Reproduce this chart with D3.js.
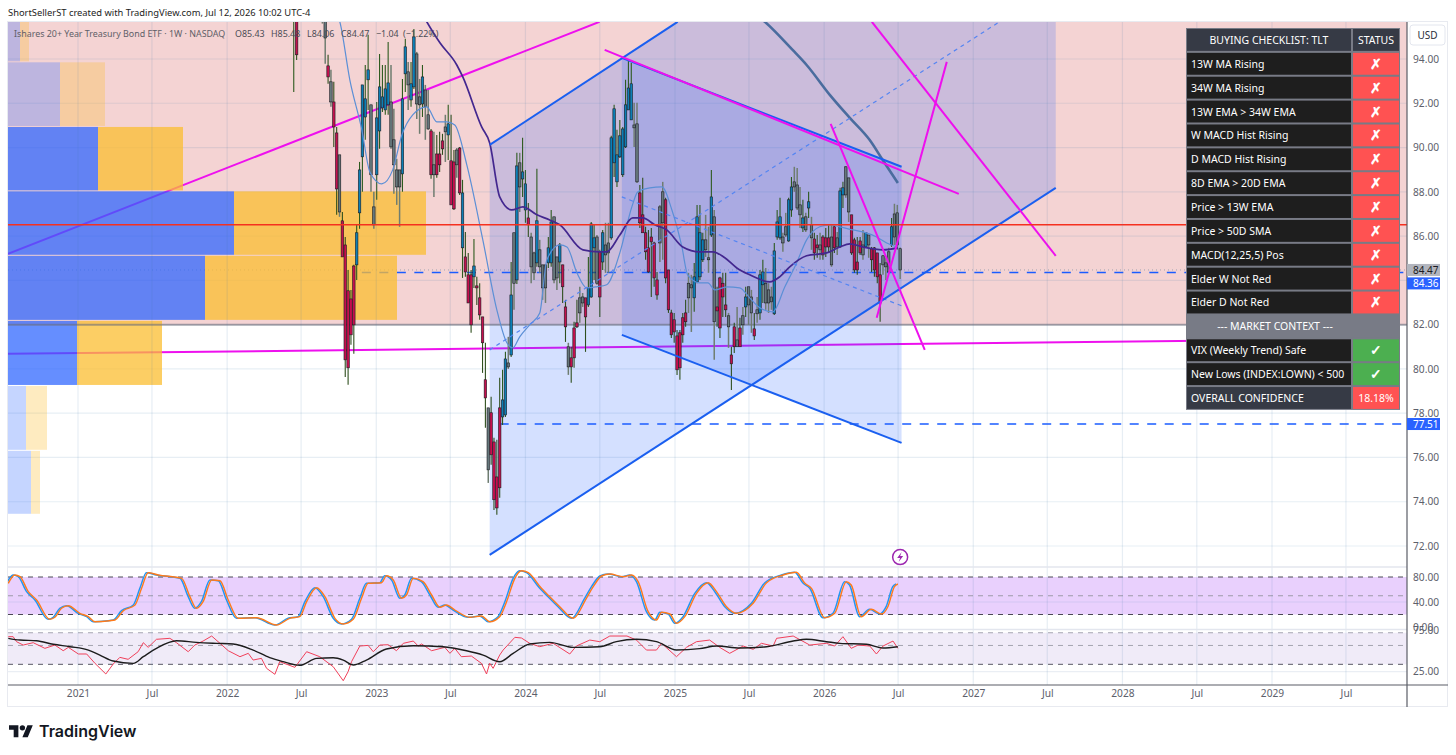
<!DOCTYPE html>
<html>
<head>
<meta charset="utf-8">
<script src="https://cdn.jsdelivr.net/npm/d3@7"></script>
<style>
  html, body { margin: 0; padding: 0; background: #fff; }
  svg { display: block; }
  text { font-family: "Noto Sans", sans-serif; }
</style>
</head>
<body>
<div id="chart"></div>
<script>
// Weekly bars, index 0 = mid June 2022, index 212 = last bar (Jul 6 2026)
const highs = [
  99,98,99.5,100.2,101,101.8,102.4,101.9,101.2,99.6,
  98.4,97.6,94.19,93.51,92.97,90.93,89.67,87.09,85.96,84.47,
  83.57,84.70,86.51,89.35,92.83,93.73,95.09,91.93,88.0,92.06,
  94.23,93.73,93.73,94.77,93.73,91.75,89.49,88.99,93.10,94.91,
  93.87,93.87,95.36,94.32,93.10,93.73,92.83,92.60,90.84,90.71,
  90.57,90.71,90.62,91.48,91.93,91.48,89.89,89.98,90.03,88.54,
  86.19,85.24,84.47,85.87,84.16,83.87,82.35,81.18,78.24,78.74,
  76.89,76.80,79.60,79.96,80.77,81.45,84.83,86.15,89.76,89.76,
  90.44,88.99,87.50,86.15,85.29,89.04,85.83,84.70,84.70,85.96,
  87.18,86.87,85.06,85.69,84.70,83.12,81.18,81.0,82.13,83.12,
  83.71,83.43,83.21,85.06,86.64,86.51,86.05,85.38,86.28,86.60,
  86.60,90.53,91.93,90.80,91.25,90.93,93.06,93.96,93.82,92.02,
  92.02,88.31,88.63,86.42,86.28,86.37,85.74,84.38,87.41,88.45,
  87.73,84.47,82.67,82.53,81.76,81.76,82.53,83.12,84.34,84.25,
  84.79,87.41,87.41,86.15,86.96,86.42,88.99,87.18,83.71,84.16,
  84.34,84.34,82.53,81.0,82.08,82.80,82.31,82.80,83.71,83.71,
  83.57,82.53,83.25,84.47,84.93,84.56,83.87,83.71,85.69,87.18,
  87.73,86.15,87.05,87.73,88.67,89.13,89.08,88.22,87.64,87.05,
  88.0,86.87,86.15,86.05,86.15,86.05,86.37,86.51,86.51,86.51,
  86.19,88.18,88.45,89.17,88.63,86.96,85.92,85.96,85.96,86.28,
  86.15,86.05,85.51,85.51,85.24,84.79,85.15,85.02,85.47,86.82,
  87.46,87.41,85.48
];
const bodyHigh = [
  98,97,98.6,99.6,100.2,101,101.2,101,100.4,99,
  97.6,96.5,93.69,92.97,92.06,90.66,89.67,86.69,85.60,83.53,
  83.16,84.65,86.15,88.99,92.83,92.20,93.51,91.93,87.32,91.34,
  92.74,92.29,92.65,92.92,92.06,90.35,88.99,88.99,92.20,94.55,
  93.42,92.88,95.0,94.23,92.29,93.19,92.60,91.48,90.75,89.22,
  89.71,89.71,90.30,90.93,91.07,89.40,89.35,89.89,89.98,87.95,
  85.06,84.25,84.25,84.65,83.75,83.21,82.35,79.51,78.24,78.02,
  76.70,75.12,78.24,78.60,80.45,80.27,83.34,86.15,89.17,89.31,
  88.90,88.36,86.82,85.96,85.24,86.69,85.38,84.70,84.70,85.47,
  86.64,86.87,85.06,85.60,84.70,82.80,81.0,80.50,81.85,82.08,
  83.21,83.25,83.21,83.66,86.55,85.92,85.96,85.29,86.15,85.60,
  85.69,90.44,91.75,89.67,90.53,90.84,91.93,92.69,92.88,91.02,
  91.07,87.95,86.96,86.15,85.47,85.96,85.69,84.02,87.32,88.0,
  87.64,84.47,82.53,82.22,81.49,81.63,82.31,82.53,83.87,83.80,
  84.16,86.87,86.15,85.83,85.83,85.02,87.77,86.87,82.80,84.11,
  83.87,82.89,82.40,80.63,81.90,81.31,81.85,82.40,83.25,83.71,
  83.25,81.81,82.67,84.25,84.38,83.87,83.57,83.25,85.33,86.64,
  86.87,85.96,86.42,87.64,88.22,88.45,88.31,87.41,86.82,86.87,
  87.55,86.51,85.87,85.60,85.60,85.96,85.92,85.92,85.96,86.42,
  85.92,88.04,88.18,89.13,88.63,86.96,85.83,84.83,85.78,85.60,
  86.15,86.05,85.42,85.47,85.24,84.25,85.11,84.79,85.29,86.42,
  87.0,87.05,85.43
];
const bodyLow = [
  97,94.19,97.4,98.2,99.4,99.8,100.4,99.9,99,97.9,
  96.4,94.95,93.19,92.06,90.93,88.13,87.09,85.06,80.41,80.05,
  81.54,81.99,84.70,87.05,89.58,91.38,93.06,88.77,86.51,88.77,
  90.75,91.79,91.70,91.93,90.03,89.22,88.22,88.22,88.81,93.33,
  92.83,92.15,92.74,91.97,91.93,91.97,91.84,90.84,88.77,88.77,
  88.77,89.22,89.94,90.71,90.57,87.41,87.23,89.22,87.95,85.47,
  84.38,82.98,81.99,84.16,83.66,82.44,81.18,78.69,75.44,76.12,
  74.09,73.72,74.63,77.83,77.92,80.09,80.63,83.87,84.02,88.22,
  88.58,87.18,86.51,84.61,84.34,84.79,84.61,83.66,83.66,84.79,
  84.79,84.02,84.11,84.83,83.71,81.90,80.09,80.09,80.50,81.90,
  82.53,82.98,82.35,82.89,83.25,85.47,83.87,83.25,84.83,85.15,
  85.24,85.92,89.31,88.45,89.58,88.77,90.03,91.70,91.25,90.89,
  88.45,86.60,86.15,85.29,84.38,85.74,84.11,83.34,85.69,86.60,
  84.11,82.67,81.54,81.67,79.96,80.05,81.54,82.13,83.21,83.66,
  83.21,83.93,84.16,84.93,85.38,84.93,86.05,82.13,82.62,81.85,
  83.25,82.67,81.90,80.23,81.0,81.0,81.0,81.99,82.80,82.89,
  82.53,81.49,82.49,82.53,83.80,82.98,82.98,83.03,82.49,85.96,
  85.92,85.69,86.05,85.78,87.18,88.22,87.27,86.96,86.37,86.28,
  87.27,85.92,85.24,85.47,85.38,85.15,85.51,85.51,84.70,85.47,
  85.51,85.51,87.86,87.86,87.09,85.24,84.47,84.47,85.24,85.15,
  85.51,85.60,84.93,84.47,84.16,82.98,84.70,84.61,84.38,85.60,
  85.96,85.60,84.47
];
const lows = [
  92.51,93.96,96.6,97.8,98.9,99.2,99.6,99.4,98.4,97,
  95.6,93.78,92.88,91.84,90.03,86.96,86.87,85.06,79.64,79.28,
  81.09,80.68,84.02,86.33,88.0,90.35,91.70,88.0,86.33,87.64,
  89.94,91.61,91.48,91.48,89.94,87.91,87.41,86.42,88.0,92.51,
  91.70,91.84,92.65,91.29,90.62,91.38,90.35,90.80,88.59,87.77,
  88.63,88.90,89.67,89.35,89.44,87.41,87.18,88.63,87.86,84.11,
  84.16,82.98,81.63,83.66,82.89,82.22,79.82,77.34,74.85,75.67,
  73.63,73.41,74.18,77.47,77.83,80.0,80.54,82.67,83.84,87.09,
  87.77,86.60,85.96,83.87,84.02,84.61,84.34,83.12,82.98,84.56,
  84.61,83.87,83.57,83.87,82.98,81.22,79.73,79.37,80.05,81.85,
  82.08,82.80,80.77,82.80,83.21,84.02,83.80,82.35,84.47,84.34,
  84.34,85.83,88.67,88.22,89.53,88.67,89.98,91.70,91.25,90.03,
  88.40,86.37,86.15,84.93,84.34,83.25,83.71,83.12,84.83,84.93,
  83.87,82.53,81.40,81.18,79.73,79.51,81.18,81.90,82.53,81.67,
  82.58,83.87,84.02,84.83,85.06,84.34,85.96,80.41,81.90,81.40,
  82.35,82.35,80.95,79.05,80.72,81.0,81.0,81.54,82.35,81.99,
  81.63,81.31,82.08,82.22,82.98,82.67,82.53,82.67,82.44,85.83,
  85.83,85.29,85.96,85.74,86.87,88.0,87.18,86.37,86.19,86.19,
  86.82,85.38,84.93,85.02,84.93,84.93,85.06,85.24,84.61,85.24,
  85.15,85.47,87.27,87.73,86.64,85.15,84.34,84.25,85.15,84.93,
  85.47,85.02,84.38,84.16,83.87,82.13,84.25,84.02,84.34,85.51,
  85.60,85.38,84.06
];
// b = blue, r = red, g = grey (impulse colouring)
const tones = (
  "brgggggggggg" + "rgrrgrrrrr" + "bbbbbggbbb" + "bbggggbbgb" + "bggbggrgrr" +
  "rgbrrgrbrr" + "rbrrrrgrrr" + "rbbgbgbgbb" + "rggbgggbbg" + "gbrrgrrrgg" +
  "rbbbgrbggb" + "bbbbbbbggr" + "rrrrrrggrr" + "rrrrrrggbb" + "bbggbgrrrr" +
  "grrgrgbggr" + "gbbgggbbbg" + "gbbgggbgbg" + "rrgrrrgrgb" + "bggrrrrgbg" +
  "rrrrgggbgg" + "g"
).split("");

// Moving averages, read at irregular bar positions
const slowMaWeeks = [44.1,46.5,51.1,57,59.1,65.7,68.5,72,76.2,80.1,85,89.5,93,101.1,107,109.4,114,118.5,122,126.2,130.4,136,141.9,146.5,150.7,154.9,159.4,166.4,169.9,173.4,179.3,186.3,190.9,194.4,198.9,205.9,211.2];
const slowMaValues = [96.22,95.68,94.73,93.73,93.19,90.93,90.21,87.77,87.18,87.32,86.96,86.73,86.51,85.38,85.29,85.29,86.05,86.82,86.82,86.51,86.28,85.51,85.29,85.29,85.02,84.56,84.25,83.93,84.16,84.61,85.11,85.24,85.51,85.65,85.51,85.38,85.47];
const longMaWeeks = [159.4,164.7,174.4,179.3,187.4,194.4,201.3,205.9,211.2];
const longMaValues = [96.22,95.68,94.41,93.73,92.38,91.34,90.35,89.44,88.40];
const fastMaWeeks = [14.4,16.1,19.6,23.8,26.6,30.8,34.6,37.8,41.6,46.5,50,53.5,56.3,60.5,66.1,71,74.5,76.6,79,82.5,86,88.5,93,95.5,99,102.4,105.9,109.4,114,118.2,120.3,124.5,128.7,132.2,135.7,137.7,141.9,144.8,147.2,151.4,155.9,159.4,162.9,167.5,171.7,175.8,179.3,183.9,187.4,190.9,195.4,198.9,203.8,207.3,210.8];
const fastMaValues = [96.22,95.68,93.06,90.80,88.90,88.36,88.99,90.57,91.48,91.84,91.16,91.16,91.02,89.22,85.83,82.67,81.18,80.95,81.45,81.99,82.53,84.93,85.60,85.51,84.34,83.66,83.71,83.80,85.24,87.32,88.0,88.18,88.22,87.18,85.51,84.25,83.89,83.89,83.57,83.71,83.66,83.21,82.76,82.58,83.71,84.79,85.83,86.42,86.51,86.42,86.28,86.19,85.96,85.69,85.51];

// Drawn lines as week / price anchors: [week1, price1, week2, price2]
const magentaBack = [[-99.9,85.2,106.9,95.68],[-99.9,80.68,351.8,81.32]];
const magentaFront = [[108.7,94.41,232.5,87.91],[187.7,91.07,220.6,80.86],[203.8,82.31,228.3,93.87],[202.1,95.68,266.4,85.11]];
const channelLines = [[68.5,90.12,134.2,95.68],[68.5,71.6,266.4,88.18],[114.7,94.05,212.5,89.13],[114.7,81.54,212.5,76.66]];
const channelMidlines = [[68.5,80.86,246.7,95.68],[114.7,87.77,212.5,82.85]];
const channelFills = [
  [[68.5,71.6],[68.5,90.12],[266.4,106.87],[266.4,88.18]],
  [[114.7,81.54],[114.7,94.05],[212.5,89.13],[212.5,76.66]]
];
const resistanceLevel = 86.51;
const zoneFloor = 81.99;
const lastClose = 84.47;
const stopLevel = 84.36;
const entryLevel = 77.51;

// Volume profile rows, price edges top to bottom
const profileEdges = [95.68,93.85,90.93,88.02,85.11,82.17,79.23,76.30,73.41];
const profileBuy = [12,52,90,226,197,69,18,23];
const profileSell = [9,45,85,192,192,85,21,9];

// Stochastic pane
const stochWeeks = [-99.8,-97.5,-95.7,-92.8,-89.9,-85.3,-83.5,-81.2,-78.8,-74.8,-71.8,-69.5,-64.3,-62.5,-59.6,-55.5,-53.2,-50.9,-47.4,-39.2,-36.3,-34,-31.7,-28.7,-25.8,-22.9,-19.4,-13,-6,-1.4,2.1,4.5,8,10.9,14.4,17.3,20.8,23.7,26,30.7,32.4,34.8,37.7,39.4,41.8,45.2,48.2,51.1,53.4,56.3,61.6,65.6,68.5,72,74.4,77.3,79.6,82,86.6,89.5,93,97.7,102.3,104.7,107.6,110.5,115.2,118.1,120.4,123.9,126.8,128.6,131.5,133.8,136.7,140.8,144.9,147.8,151.3,154.8,160.6,165.3,171.1,175.7,178.7,181,185.6,189.1,193.2,194.9,198.4,201.9,205.4,207.7,210,211.2];
const stochValues = [69.9,83.2,80.5,56.5,43.2,12.3,15.5,29.9,34.1,21.9,16.5,8.5,10.1,11.2,26.1,35.2,61.9,86.9,83.2,77.9,48.5,29.9,40.5,75.2,74.1,43.2,13.9,14.9,3.2,13.9,16.5,40.5,62.9,48.5,13.9,4.8,12.3,45.9,69.9,70.9,82.1,75.2,45.9,51.2,77.9,72.5,51.2,31.5,35.2,27.2,15.5,17.6,8.5,16.5,40.5,77.9,90.1,86.9,61.9,48.5,32.5,13.9,45.9,64.5,81.6,84.8,80.5,83.2,72.5,24.5,11.2,23.5,20.8,5.9,16.5,53.9,70.9,56.5,32.5,21.9,37.9,70.9,83.2,87.5,69.9,61.9,14.9,21.9,72.5,67.2,16.5,28.3,20.8,32.5,64.5,68.8];
const stochLevels = [80,50,20];

// RSI pane
const rsiWeeks = [-99.8,-98.1,-96.9,-94.6,-91.1,-87,-83.5,-80.6,-78.8,-75.3,-72.4,-69.5,-65.7,-63.1,-60.8,-57.9,-54.4,-52.6,-50.9,-48,-43.3,-41,-36.9,-34.6,-31.7,-28.7,-25.8,-22.9,-18.8,-15.9,-14.2,-11.3,-9.5,-6.6,-4.9,0.4,4.5,9.1,13.8,17.3,19,20.2,23.1,26,27.8,30.1,33,35.9,38.3,41.8,43.5,44.7,48.2,52.8,54.6,56.3,58.6,62.1,65.6,67.4,68.5,69.7,72,73.2,77.3,79.6,82.5,86,90.7,96.5,98.8,103.5,107,110.5,116.5,119.8,123.3,126.8,128.6,133.8,137.3,140.8,145.4,148.9,152.4,157.1,160.6,163.5,167.6,168.8,174.6,180.4,186.2,189.1,192,194.9,197.3,201.4,203.7,206,209.5,211.2];
const rsiValues = [67.7,67.7,61.6,57.5,60.4,53.5,57.5,50.6,54.7,46.6,46.6,35.2,22.2,34.4,42.5,40.1,49.4,60.4,54.7,64.5,65.7,60.4,49.4,57.5,62.4,68.5,59.6,50.6,43.3,47.4,39.2,41.3,29.1,21.8,37.2,30.3,49.4,43.3,31.1,14.0,25.0,37.2,56.3,57.1,49.4,57.5,57.9,50.6,59.6,62.4,56.3,58.8,50.6,54.7,47.4,53.5,43.3,44.1,35.2,22.2,35.2,29.1,45.3,51.4,66.9,66.1,59.6,55.5,59.6,46.6,56.3,63.6,61.6,68.5,68.5,63.6,51.4,51.4,59.6,43.3,54.7,61.6,63.6,54.7,47.4,56.3,52.3,59.6,56.3,65.7,68.5,57.5,59.6,56.3,67.7,53.5,57.5,56.3,46.6,56.3,62.4,53.5];
const rsiMaWeeks = [-99.8,-95.7,-89.9,-84.1,-78.3,-71.8,-67.8,-63.1,-56.1,-52.6,-48,-41,-34,-27,-21.2,-14.2,-8.4,-3.7,2.1,8,13.8,17.3,20.8,25.4,32.4,41.8,52.2,60.4,66.2,72,76.7,82.5,89.5,97.7,107,112.8,119.8,126.8,133.8,141.9,147.8,155.9,165.3,174.6,179.2,186.2,190.9,200.2,206,211.2];
const rsiMaValues = [65.7,63.6,62.8,58.4,55.5,51.4,45.3,38.0,35.2,43.3,53.5,62.8,60.8,59.6,58.8,51.4,42.1,37.2,32.7,41.3,42.1,39.2,33.2,39.2,52.7,56.7,55.5,50.6,45.3,37.2,47.4,58.8,60.8,54.7,55.5,61.6,64.5,61.6,51.4,53.1,56.3,53.9,55.5,62.4,64.5,61.6,59.6,58.4,53.9,55.5];
const rsiLevels = [72.5,57,34];

// Axis ticks
const priceTicks = [94,92,90,88,86,84,82,80,78,76,74,72];
const priceLabels = [94,92,90,88,86,82,80,78,76,74,72];
const stochTicks = [80,40,0];
const rsiTicks = [75,25];
const timeTicks = ["2021-01-01","2021-07-01","2022-01-01","2022-07-01","2023-01-01","2023-07-01","2024-01-01","2024-07-01","2025-01-01","2025-07-01","2026-01-01","2026-07-01","2027-01-01","2027-07-01","2028-01-01","2028-07-01","2029-01-01","2029-07-01"];

// Legend pieces
const legendName = "Ishares 20+ Year Treasury Bond ETF · 1W · NASDAQ";
const legendValues = ["O85.43","H85.48","L84.06","C84.47","−1.04","(−1.22%)"];
const legendValueX = [235,271,307,341,376,403];

// Checklist table
const checklistHeader = ["BUYING CHECKLIST: TLT","STATUS"];
const checklistLabels = ["13W MA Rising","34W MA Rising","13W EMA > 34W EMA","W MACD Hist Rising","D MACD Hist Rising","8D EMA > 20D EMA","Price > 13W EMA","Price > 50D SMA","MACD(12,25,5) Pos","Elder W Not Red","Elder D Not Red"];
const contextTitle = "--- MARKET CONTEXT ---";
const contextLabels = ["VIX (Weekly Trend) Safe","New Lows (INDEX:LOWN) < 500"];
const overallLabel = "OVERALL CONFIDENCE";
const overallValue = "18.18%";

const width = 1456, height = 755;
const plotLeft = 8, plotRight = 1407;

const svg = d3.select("#chart").append("svg")
    .attr("width", width)
    .attr("height", height);

// Scales
const parseDay = d3.timeParse("%Y-%m-%d");
const x = d3.scaleTime()
    .domain([parseDay("2021-01-01"), parseDay("2029-01-01")])
    .range([78, 1272]);
const y = d3.scaleLinear().domain([94, 72]).range([59, 546]);
const yStoch = d3.scaleLinear().domain([80, 0]).range([577, 627]);
const yRsi = d3.scaleLinear().domain([75, 25]).range([630.7, 671.7]);
const volumeX = d3.scaleLinear().domain([0, 418]).range([plotLeft, 426]);

const lastBar = parseDay("2026-07-06");
const weekX = w => x(new Date(+lastBar + (w - 212) * 7 * 864e5));

const defs = svg.append("defs");
defs.append("clipPath").attr("id", "mainClip").append("rect")
    .attr("x", plotLeft).attr("y", 22).attr("width", plotRight - plotLeft).attr("height", 545);
defs.append("clipPath").attr("id", "lowerClip").append("rect")
    .attr("x", plotLeft).attr("y", 567).attr("width", plotRight - plotLeft).attr("height", 118);

const main = svg.append("g").attr("clip-path", "url(#mainClip)");
const lower = svg.append("g").attr("clip-path", "url(#lowerClip)");

// Red zone behind price
main.append("rect")
    .attr("x", plotLeft).attr("y", 22)
    .attr("width", plotRight - plotLeft)
    .attr("height", y(zoneFloor) - 22)
    .attr("fill", "#f4d3d3");

// Grid
const gridColor = "rgba(70,120,170,0.13)";
main.selectAll(".hgrid").data(priceTicks).enter().append("line")
    .attr("x1", plotLeft).attr("x2", plotRight)
    .attr("y1", d => y(d)).attr("y2", d => y(d))
    .attr("stroke", gridColor).attr("stroke-width", 1.2);
svg.selectAll(".vgrid").data(timeTicks).enter().append("line")
    .attr("x1", d => x(parseDay(d))).attr("x2", d => x(parseDay(d)))
    .attr("y1", 22).attr("y2", 685)
    .attr("stroke", gridColor).attr("stroke-width", 1.2);

function drawSegments(parent, rows, color, strokeWidth, dash) {
    parent.selectAll(null).data(rows).enter().append("line")
        .attr("x1", d => weekX(d[0])).attr("y1", d => y(d[1]))
        .attr("x2", d => weekX(d[2])).attr("y2", d => y(d[3]))
        .attr("stroke", color)
        .attr("stroke-width", strokeWidth)
        .attr("stroke-dasharray", dash || null);
}

// Lines that sit under the volume profile
drawSegments(main, magentaBack, "#ee10ee", 2);
main.append("line")
    .attr("x1", plotLeft).attr("x2", plotRight)
    .attr("y1", y(lastClose)).attr("y2", y(lastClose))
    .attr("stroke", "#a0a4b0").attr("stroke-dasharray", "1,3");
drawSegments(main, [[23.8, stopLevel, 400, stopLevel]], "#1a5cff", 1.5, "9,8.5");
drawSegments(main, [[72, entryLevel, 400, entryLevel]], "#1a5cff", 1.5, "9,8.5");

// Volume profile
const profileRows = profileBuy.map((buy, i) => ({
    buy, sell: profileSell[i], top: profileEdges[i], bottom: profileEdges[i + 1]
}));
const rowOpacity = d => (d.buy + d.sell < 120 ? 0.27 : 0.72);
main.selectAll(".vpBuy").data(profileRows).enter().append("rect")
    .attr("x", plotLeft)
    .attr("y", d => y(d.top))
    .attr("width", d => volumeX(d.buy) - plotLeft)
    .attr("height", d => y(d.bottom) - y(d.top) - 1)
    .attr("fill", "#2962ff")
    .attr("fill-opacity", rowOpacity);
main.selectAll(".vpSell").data(profileRows).enter().append("rect")
    .attr("x", d => volumeX(d.buy))
    .attr("y", d => y(d.top))
    .attr("width", d => volumeX(d.sell) - plotLeft)
    .attr("height", d => y(d.bottom) - y(d.top) - 1)
    .attr("fill", "#fbbd30")
    .attr("fill-opacity", d => rowOpacity(d) + 0.03);

// Channel fills
main.selectAll(".channelFill").data(channelFills).enter().append("polygon")
    .attr("points", d => d.map(p => [weekX(p[0]), y(p[1])].join(",")).join(" "))
    .attr("fill", "rgba(41,98,255,0.2)");

// Zone floor
main.append("line")
    .attr("x1", plotLeft).attr("x2", plotRight)
    .attr("y1", y(zoneFloor)).attr("y2", y(zoneFloor))
    .attr("stroke", "rgba(110,112,125,0.6)").attr("stroke-width", 2);

// Candles
const candleColor = { b: "#0c7fb6", r: "#c4104e", g: "#66787c" };
const wickColor = { b: "#2d5a1e", r: "#2f4f1e", g: "#6f7d70" };
const candles = highs.map((h, i) => ({
    week: i, high: h, top: bodyHigh[i], bottom: bodyLow[i], low: lows[i], tone: tones[i]
}));
const candleG = main.selectAll(".candle").data(candles).enter().append("g");
candleG.append("line")
    .attr("x1", d => weekX(d.week)).attr("x2", d => weekX(d.week))
    .attr("y1", d => y(d.high)).attr("y2", d => y(d.low))
    .attr("stroke", d => wickColor[d.tone])
    .attr("stroke-width", d => d.tone === "g" ? 1.5 : 1.1);
candleG.append("rect")
    .attr("x", d => weekX(d.week) - 1.25)
    .attr("width", 2.5)
    .attr("y", d => y(d.top))
    .attr("height", d => Math.max(1, y(d.bottom) - y(d.top)))
    .attr("fill", d => candleColor[d.tone])
    .attr("stroke", "#1c1c22")
    .attr("stroke-width", 0.6);

// Moving averages
const maLine = d3.line().curve(d3.curveMonotoneX);
function drawMa(weeks, values, color, strokeWidth) {
    main.append("path")
        .attr("d", maLine(weeks.map((w, i) => [weekX(w), y(values[i])])))
        .attr("fill", "none")
        .attr("stroke", color)
        .attr("stroke-width", strokeWidth);
}
drawMa(fastMaWeeks, fastMaValues, "#5b8fd6", 1.2);
drawMa(slowMaWeeks, slowMaValues, "#43278f", 1.7);
drawMa(longMaWeeks, longMaValues, "#4a6c9e", 2.6);

// Channels and the other drawn lines
drawSegments(main, channelMidlines, "#5585f2", 1.2, "4,4");
drawSegments(main, channelLines, "#1a5ff0", 2);
drawSegments(main, magentaFront, "#ee10ee", 2);
drawSegments(main, [[-110, resistanceLevel, 400, resistanceLevel]], "#f5301f", 1.5);

// Alert marker
const markerX = weekX(212), markerY = y(71.5);
const marker = svg.append("g").attr("transform", `translate(${markerX},${markerY})`);
marker.append("circle").attr("r", 7.5).attr("fill", "#fff").attr("stroke", "#9c27b0").attr("stroke-width", 1.5);
marker.append("path").attr("d", "M1.5,-5L-3,1H0L-1.5,5L3,-1H0Z").attr("fill", "#9c27b0");

// Stochastic pane
lower.append("rect")
    .attr("x", plotLeft).attr("width", plotRight - plotLeft)
    .attr("y", yStoch(stochLevels[0]))
    .attr("height", yStoch(stochLevels[2]) - yStoch(stochLevels[0]))
    .attr("fill", "#e9d0fd");
lower.append("line")
    .attr("x1", plotLeft).attr("x2", plotRight)
    .attr("y1", yStoch(40)).attr("y2", yStoch(40))
    .attr("stroke", gridColor).attr("stroke-width", 1.2);
lower.selectAll(".stochLevel").data(stochLevels).enter().append("line")
    .attr("x1", plotLeft).attr("x2", plotRight)
    .attr("y1", d => yStoch(d)).attr("y2", d => yStoch(d))
    .attr("stroke", (d, i) => i === 1 ? "#9d9aa8" : "#4a4a55")
    .attr("stroke-dasharray", "5,5");
const paneLine = d3.line().curve(d3.curveMonotoneX);
lower.append("path")
    .attr("d", paneLine(stochWeeks.map((w, i) => [weekX(w - 0.6), yStoch(stochValues[i])])))
    .attr("fill", "none").attr("stroke", "#2196f3").attr("stroke-width", 1.5);
lower.append("path")
    .attr("d", paneLine(stochWeeks.map((w, i) => [weekX(w), yStoch(stochValues[i])])))
    .attr("fill", "none").attr("stroke", "#ff7a1a").attr("stroke-width", 1.4);

// Pane separators
svg.selectAll(".paneSep").data([567, 629.5]).enter().append("line")
    .attr("x1", plotLeft).attr("x2", plotRight)
    .attr("y1", d => d).attr("y2", d => d)
    .attr("stroke", "#e3e6ee").attr("stroke-width", 1.6);

// RSI pane
lower.append("rect")
    .attr("x", plotLeft).attr("width", plotRight - plotLeft)
    .attr("y", yRsi(rsiLevels[0]))
    .attr("height", yRsi(rsiLevels[2]) - yRsi(rsiLevels[0]))
    .attr("fill", "#f0ebf8");
lower.selectAll(".rsiLevel").data(rsiLevels).enter().append("line")
    .attr("x1", plotLeft).attr("x2", plotRight)
    .attr("y1", d => yRsi(d)).attr("y2", d => yRsi(d))
    .attr("stroke", (d, i) => i === 2 ? "#5a5a65" : "#a5a5b0")
    .attr("stroke-dasharray", "5,5");
lower.append("line")
    .attr("x1", plotLeft).attr("x2", plotRight)
    .attr("y1", yRsi(25)).attr("y2", yRsi(25))
    .attr("stroke", "#eaeef4").attr("stroke-width", 1.2);
lower.append("path")
    .attr("d", d3.line()(rsiWeeks.map((w, i) => [weekX(w), yRsi(rsiValues[i])])))
    .attr("fill", "none").attr("stroke", "#f0405a").attr("stroke-width", 1);
lower.append("path")
    .attr("d", paneLine(rsiMaWeeks.map((w, i) => [weekX(w), yRsi(rsiMaValues[i])])))
    .attr("fill", "none").attr("stroke", "#1c1c1c").attr("stroke-width", 1.4);

// Frame and axes
svg.append("rect")
    .attr("x", 7.5).attr("y", 21.5).attr("width", 1440).attr("height", 685)
    .attr("fill", "none").attr("stroke", "#e8eaf0");
svg.append("line")
    .attr("x1", plotLeft).attr("x2", 1448).attr("y1", 685).attr("y2", 685)
    .attr("stroke", "#5a5d66").attr("stroke-width", 1.2);
svg.append("line")
    .attr("x1", plotRight).attr("x2", plotRight).attr("y1", 22).attr("y2", 707)
    .attr("stroke", "#5a5d66").attr("stroke-width", 1.2);

function styleAxis(g) {
    g.select(".domain").remove();
    g.selectAll("text")
        .attr("fill", "#5d606b")
        .style("font-size", "10.2px")
        .style("font-family", '"Noto Sans", sans-serif');
}
svg.append("g")
    .attr("transform", "translate(0,685)")
    .call(d3.axisBottom(x)
        .tickValues(timeTicks.map(parseDay))
        .tickSize(0)
        .tickPadding(5)
        .tickFormat(d => d.getMonth() === 0 ? d3.timeFormat("%Y")(d) : d3.timeFormat("%b")(d)))
    .call(styleAxis);
svg.append("g")
    .attr("transform", `translate(${plotRight},0)`)
    .call(d3.axisRight(y).tickValues(priceLabels).tickSize(0).tickPadding(6).tickFormat(d3.format(".2f")))
    .call(styleAxis);
svg.append("g")
    .attr("transform", `translate(${plotRight},0)`)
    .call(d3.axisRight(yStoch).tickValues(stochTicks).tickSize(0).tickPadding(6).tickFormat(d3.format(".2f")))
    .call(styleAxis);
svg.append("g")
    .attr("transform", `translate(${plotRight},0)`)
    .call(d3.axisRight(yRsi).tickValues(rsiTicks).tickSize(0).tickPadding(6).tickFormat(d3.format(".2f")))
    .call(styleAxis);

// Currency button
svg.append("rect")
    .attr("x", 1410).attr("y", 25).attr("width", 35).attr("height", 20).attr("rx", 3)
    .attr("fill", "#fff").attr("stroke", "#e3e6ee");
svg.append("text").attr("x", 1427.5).attr("y", 39).attr("text-anchor", "middle")
    .attr("font-size", 10).attr("fill", "#2a2e39").text("USD");

// Price tags
const priceTags = [
    { value: lastClose, bg: "#b2b5be", fg: "#1c1c22", nudge: 0 },
    { value: stopLevel, bg: "#2962ff", fg: "#fff", nudge: 11 },
    { value: entryLevel, bg: "#2962ff", fg: "#fff", nudge: 0 }
];
const tags = svg.selectAll(".tag").data(priceTags).enter().append("g")
    .attr("transform", d => `translate(${plotRight},${y(d.value) + d.nudge})`);
tags.append("rect").attr("x", 0).attr("y", -6).attr("width", 33).attr("height", 12).attr("fill", d => d.bg);
tags.append("text").attr("x", 6).attr("y", 3.7).attr("font-size", 10).attr("fill", d => d.fg)
    .text(d => d3.format(".2f")(d.value));

// Title lines
svg.append("text").attr("x", 8).attr("y", 15.5).attr("font-size", 9.35).attr("fill", "#1c1c22")
    .text("ShortSellerST created with TradingView.com, Jul 12, 2026 10:02 UTC-4");
svg.append("text").attr("x", 14).attr("y", 36.5).attr("font-size", 8.9).attr("fill", "#5f5f68")
    .text(legendName);
svg.selectAll(".legendValue").data(legendValues).enter().append("text")
    .attr("x", (d, i) => legendValueX[i]).attr("y", 36.5)
    .attr("font-size", 8.9).attr("fill", "#4c4c55")
    .text(d => d);

// Checklist panel
const panelX = 1186, panelRight = 1400, splitX = 1352, panelTop = 28, rowH = 23.87;
const panelRows = [
    { left: checklistHeader[0], right: checklistHeader[1], bg: "#363a45", status: "#363a45", center: true }
].concat(
    checklistLabels.map(l => ({ left: l, right: "✗", bg: "#1e1e1e", status: "#ff5252" })),
    [{ left: contextTitle, bg: "#787b86", span: true }],
    contextLabels.map(l => ({ left: l, right: "✓", bg: "#1e1e1e", status: "#4caf50" })),
    [{ left: overallLabel, right: overallValue, bg: "#363a45", status: "#ff5252", bold: true }]
);
svg.append("rect")
    .attr("x", panelX).attr("y", panelTop)
    .attr("width", panelRight - panelX).attr("height", rowH * panelRows.length)
    .attr("fill", "#787b86");
const rowsG = svg.selectAll(".pRow").data(panelRows).enter().append("g")
    .attr("transform", (d, i) => `translate(0,${panelTop + i * rowH})`);
rowsG.append("rect")
    .attr("x", panelX + 1).attr("y", 1)
    .attr("width", d => (d.span ? panelRight - panelX - 2 : splitX - panelX - 2))
    .attr("height", rowH - 2)
    .attr("fill", d => d.bg);
rowsG.filter(d => !d.span).append("rect")
    .attr("x", splitX + 1).attr("y", 1)
    .attr("width", panelRight - splitX - 2)
    .attr("height", rowH - 2)
    .attr("fill", d => d.status);
rowsG.append("text")
    .attr("x", d => d.center ? (panelX + splitX) / 2 : d.span ? panelX + 89 : panelX + 5)
    .attr("y", rowH / 2 + 4)
    .attr("text-anchor", d => d.center || d.span ? "middle" : "start")
    .attr("font-size", 10.5)
    .attr("fill", "#fff")
    .text(d => d.left);
rowsG.filter(d => !d.span).append("text")
    .attr("x", (splitX + panelRight) / 2)
    .attr("y", d => rowH / 2 + (d.right === "✗" || d.right === "✓" ? 5 : 4))
    .attr("text-anchor", "middle")
    .attr("font-size", d => d.right === "✗" || d.right === "✓" ? 14 : 10.5)
    .attr("font-weight", d => d.right === "✗" || d.right === "✓" ? 700 : null)
    .attr("fill", "#fff")
    .text(d => d.right);

// Logo
const logo = svg.append("g").attr("transform", "translate(9,722.5) scale(0.67)");
logo.append("path").attr("d", "M14 22H7V11H0V4h14v18zM28 22h-8l7.5-18h8L28 22z").attr("fill", "#131722");
logo.append("circle").attr("cx", 20).attr("cy", 8).attr("r", 4).attr("fill", "#131722");
svg.append("text").attr("x", 39).attr("y", 737).attr("font-size", 16)
    .attr("font-weight", 600).attr("fill", "#131722")
    .style("font-family", "Inter, sans-serif").text("TradingView");
</script>
</body>
</html>
